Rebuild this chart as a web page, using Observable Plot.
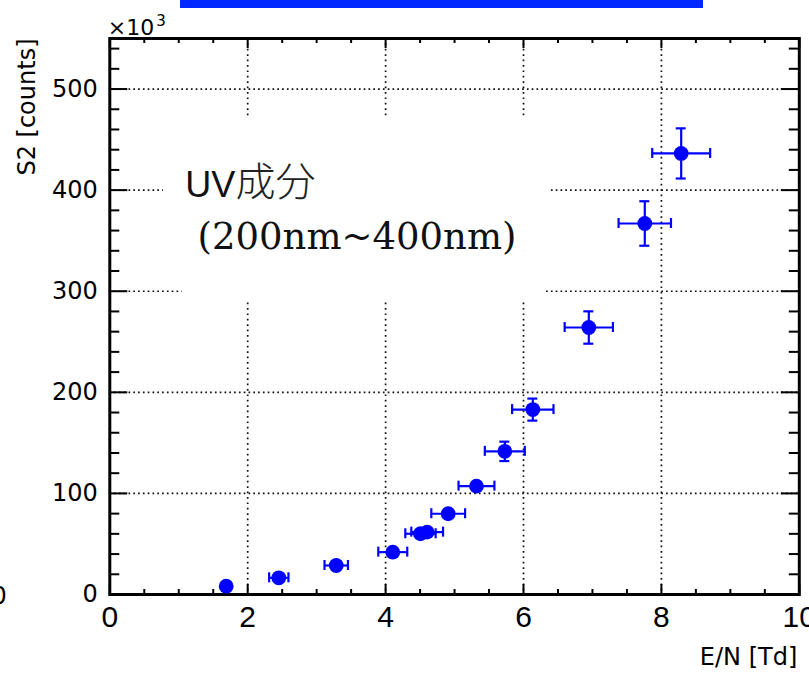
<!DOCTYPE html>
<html><head><meta charset="utf-8">
<script src="https://cdn.jsdelivr.net/npm/d3@7"></script>
<script src="https://cdn.jsdelivr.net/npm/@observablehq/plot@0.6"></script>
<style>
html,body{margin:0;padding:0;background:#fff;}
#wrap{position:relative;width:809px;height:674px;overflow:hidden;background:#fff;}
#bar{position:absolute;left:180px;top:0;width:523px;height:8px;background:#0028ff;}
</style></head><body>
<div id="wrap"><div id="chart"></div><div id="bar"></div></div>
<script>
// E/N [Td] and S2 [x10^3 counts]
const enField = [1.688, 2.451, 3.284, 4.104, 4.506, 4.603, 4.908, 5.318, 5.729, 6.135, 6.947, 7.759, 8.287];
const s2k     = [8.2, 16.5, 28.7, 41.9, 60.1, 61.7, 79.9, 107.2, 141.6, 182.9, 264.1, 367.0, 436.3];
const enErr   = [0.08, 0.14, 0.17, 0.21, 0.22, 0.23, 0.245, 0.26, 0.29, 0.30, 0.35, 0.38, 0.42];
const s2Err   = [1, 1.5, 2.5, 3, 4, 4, 5, 6, 9.6, 10.9, 16.0, 22.0, 24.8];

const xMajor = [0, 2, 4, 6, 8, 10];
const xMinor = [0.5, 1, 1.5, 2.5, 3, 3.5, 4.5, 5, 5.5, 6.5, 7, 7.5, 8.5, 9, 9.5];
const yMajor = [0, 100, 200, 300, 400, 500];
const yMinor = [20, 40, 60, 80, 120, 140, 160, 180, 220, 240, 260, 280, 320, 340, 360, 380, 420, 440, 460, 480, 520, 540];
const xGrid = [2, 4, 6, 8];
const yGrid = [100, 200, 300, 400, 500];

const xTitle = "E/N [Td]";
const yTitle = "S2 [counts]";
const yExpBase = "×10";
const yExpPower = "3";
const noteLine1a = "UV";
const noteLine1b = "成分";
const noteLine2 = "(200nm~400nm)";
// white background box behind the note (data units)
const noteBoxX1 = [0.78, 1.05];
const noteBoxX2 = [6.39, 6.33];
const noteBoxY1 = [340, 290];
const noteBoxY2 = [472, 340];

const pts = enField.map((x, i) => ({x, y: s2k[i], ex: enErr[i], ey: s2Err[i]}));
const boxes = noteBoxX1.map((x1, i) => ({x1, x2: noteBoxX2[i], y1: noteBoxY1[i], y2: noteBoxY2[i]}));

const W = 809, H = 674;
const mL = 109.3, mR = 10.2, mT = 38, mB = 80;
const pW = W - mL - mR, pH = H - mT - mB;
const blue = "#0000ff";
const sans = "DejaVu Sans";
const tk = {stroke: "black", strokeWidth: 2};
const eb = {stroke: blue, strokeWidth: 2.2};

const chart = Plot.plot({
  width: W, height: H,
  marginLeft: mL, marginRight: mR, marginTop: mT, marginBottom: mB,
  style: {background: "white", overflow: "visible"},
  x: {domain: [0, 10], axis: null},
  y: {domain: [0, 550], axis: null},
  marks: [
    // grid
    Plot.ruleY(yGrid, {y: d => d, stroke: "#111", strokeWidth: 1.7, strokeDasharray: "1.7 3.1"}),
    Plot.ruleX(xGrid, {x: d => d, stroke: "#111", strokeWidth: 1.7, strokeDasharray: "1.7 3.7"}),
    // note box
    Plot.rect(boxes, {x1: "x1", x2: "x2", y1: "y1", y2: "y2", fill: "white"}),
    // ticks (inward, all four sides)
    Plot.ruleX(xMajor, {x: d => d, ...tk, insetTop: pH - 10}),
    Plot.ruleX(xMinor, {x: d => d, ...tk, insetTop: pH - 5}),
    Plot.ruleX(xMajor, {x: d => d, ...tk, insetBottom: pH - 10}),
    Plot.ruleX(xMinor, {x: d => d, ...tk, insetBottom: pH - 5}),
    Plot.ruleY(yMajor, {y: d => d, ...tk, insetRight: pW - 18}),
    Plot.ruleY(yMinor, {y: d => d, ...tk, insetRight: pW - 10}),
    Plot.ruleY(yMajor, {y: d => d, ...tk, insetLeft: pW - 18}),
    Plot.ruleY(yMinor, {y: d => d, ...tk, insetLeft: pW - 10}),
    Plot.frame({stroke: "black", strokeWidth: 3}),
    // error bars
    Plot.ruleY(pts, {y: "y", x1: d => d.x - d.ex, x2: d => d.x + d.ex, ...eb}),
    Plot.ruleX(pts, {x: "x", y1: d => d.y - d.ey, y2: d => d.y + d.ey, ...eb}),
    Plot.ruleX(pts.filter(d => d.ex > 0.11), {x: d => d.x - d.ex, y1: "y", y2: "y", insetTop: -5, insetBottom: -5, ...eb}),
    Plot.ruleX(pts.filter(d => d.ex > 0.11), {x: d => d.x + d.ex, y1: "y", y2: "y", insetTop: -5, insetBottom: -5, ...eb}),
    Plot.ruleY(pts.filter(d => d.ey > 7.5), {y: d => d.y - d.ey, x1: "x", x2: "x", insetLeft: -5, insetRight: -5, ...eb}),
    Plot.ruleY(pts.filter(d => d.ey > 7.5), {y: d => d.y + d.ey, x1: "x", x2: "x", insetLeft: -5, insetRight: -5, ...eb}),
    Plot.dot(pts, {x: "x", y: "y", r: 7.4, fill: blue, stroke: "none"}),
    // tick labels
    Plot.text(xMajor, {x: d => d, text: d => String(d), frameAnchor: "bottom", dy: 32, lineAnchor: "bottom", fontFamily: "Liberation Sans", fontSize: 30, fill: "black"}),
    Plot.text(yMajor, {y: d => d, text: d => String(d), frameAnchor: "left", dx: -12, textAnchor: "end", lineAnchor: "middle", fontFamily: sans, fontSize: 24, fill: "black"}),
    Plot.text(["0"], {text: d => d, frameAnchor: "bottom-left", dx: -103, dy: 2, textAnchor: "end", lineAnchor: "middle", fontFamily: sans, fontSize: 24, fill: "black"}),
    // titles
    Plot.text([xTitle], {text: d => d, frameAnchor: "bottom-right", dx: -2, dy: 70, textAnchor: "end", lineAnchor: "bottom", fontFamily: sans, fontSize: 24, fill: "black"}),
    Plot.text([yTitle], {text: d => d, frameAnchor: "top-left", dx: 34.5 - mL, dy: 0, rotate: -90, textAnchor: "end", lineAnchor: "bottom", fontFamily: sans, fontSize: 24, fill: "black"}),
    Plot.text([yExpBase], {text: d => d, frameAnchor: "top-left", dx: -2, dy: -4, textAnchor: "start", lineAnchor: "bottom", fontFamily: sans, fontSize: 22, fill: "black"}),
    Plot.text([yExpPower], {text: d => d, frameAnchor: "top-left", dx: 46.5, dy: -13, textAnchor: "start", lineAnchor: "bottom", fontFamily: sans, fontSize: 15, fill: "black"}),
    // note
    Plot.text([noteLine1a], {text: d => d, frameAnchor: "top-left", dx: 186.7 - mL - 2, dy: 196.7 - mT, textAnchor: "start", lineAnchor: "bottom", fontFamily: "Liberation Sans", fontSize: 36, fill: "#111"}),
    Plot.text([noteLine1b], {text: d => d, frameAnchor: "top-left", dx: 235 - mL, dy: 195 - mT, textAnchor: "start", lineAnchor: "bottom", fontFamily: "Noto Sans CJK JP", fontWeight: 300, fontSize: 40, fill: "#222"}),
    Plot.text([noteLine2], {text: d => d, frameAnchor: "top-left", dx: 197 - mL, dy: 248 - mT, textAnchor: "start", lineAnchor: "bottom", fontFamily: "DejaVu Serif", fontSize: 37, fill: "#111"})
  ]
});
document.getElementById("chart").appendChild(chart);
</script>
</body></html>
